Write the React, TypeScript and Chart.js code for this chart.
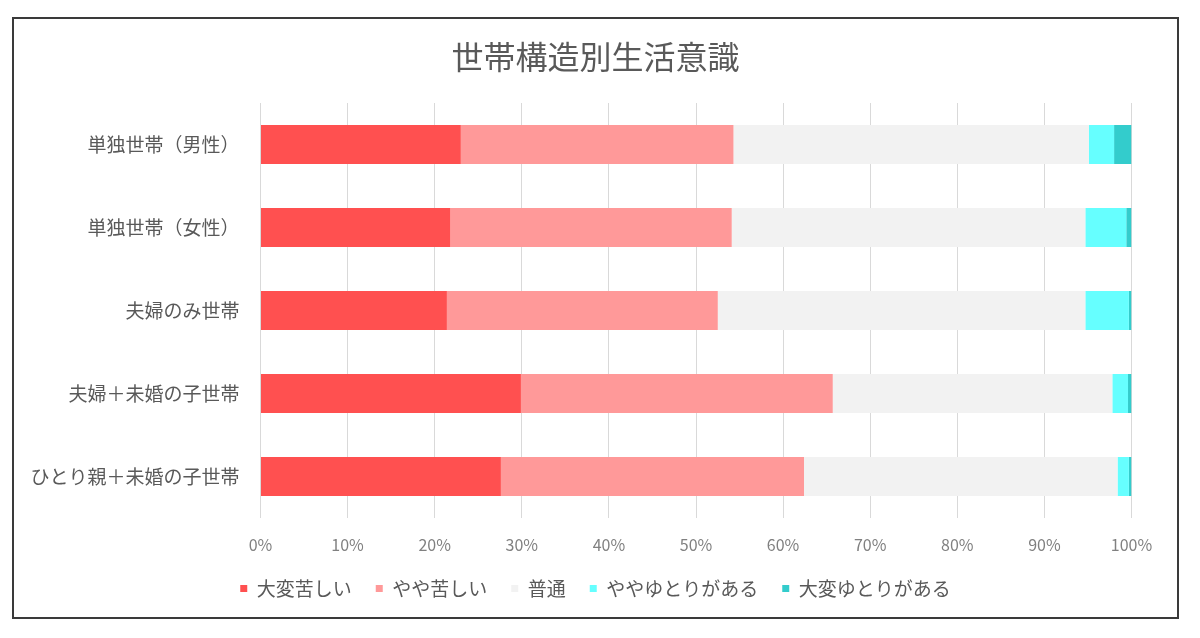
import { useEffect, useRef } from "react"
import { Chart, registerables } from "chart.js"

Chart.register(...registerables)

const categories = [
  "単独世帯（男性）",
  "単独世帯（女性）",
  "夫婦のみ世帯",
  "夫婦＋未婚の子世帯",
  "ひとり親＋未婚の子世帯",
]

const seriesNames = ["大変苦しい", "やや苦しい", "普通", "ややゆとりがある", "大変ゆとりがある"]

// percentages per category
const veryHard = [23.0, 21.8, 21.4, 29.9, 27.6]
const somewhatHard = [31.3, 32.3, 31.1, 35.8, 34.8]
const normal = [40.8, 40.6, 42.2, 32.1, 36.0]
const somewhatComfortable = [2.9, 4.7, 5.0, 1.8, 1.3]
const veryComfortable = [2.0, 0.6, 0.3, 0.4, 0.3]

const xTicks = [0, 10, 20, 30, 40, 50, 60, 70, 80, 90, 100]

const colors = ["#FF5050", "#FF9999", "#F2F2F2", "#66FFFF", "#33CCCC"]

const FONT = "'Noto Sans CJK JP', 'Noto Sans', sans-serif"

export default function App() {
  const chartRef = useRef<HTMLCanvasElement>(null)
  const chartInstance = useRef<Chart | null>(null)

  useEffect(() => {
    if (!chartRef.current) return
    if (chartInstance.current) chartInstance.current.destroy()
    const ctx = chartRef.current.getContext("2d")
    if (!ctx) return

    const values = [veryHard, somewhatHard, normal, somewhatComfortable, veryComfortable]

    chartInstance.current = new Chart(ctx, {
      type: "bar",
      data: {
        labels: categories,
        datasets: values.map((v, i) => ({
          label: seriesNames[i],
          data: v,
          backgroundColor: colors[i],
          borderWidth: 0,
          barPercentage: 0.47,
          categoryPercentage: 1,
        })),
      },
      options: {
        indexAxis: "y",
        responsive: true,
        maintainAspectRatio: false,
        animation: false,
        layout: { padding: { left: 0, right: 0, top: 0, bottom: 12 } },
        scales: {
          x: {
            stacked: true,
            min: 0,
            max: 100,
            afterBuildTicks: (scale) => {
              scale.ticks = xTicks.map((value) => ({ value }))
            },
            afterFit: (scale) => {
              scale.height = 37
            },
            grid: { color: "#D9D9D9", drawTicks: false },
            border: { display: false },
            ticks: {
              padding: 17,
              maxRotation: 0,
              color: "#808080",
              font: { family: FONT, size: 16 },
              callback: (v) => v + "%",
            },
          },
          y: {
            stacked: true,
            afterFit: (scale) => {
              scale.width = 246.5
            },
            grid: { display: false, drawTicks: false },
            border: { display: false },
            ticks: {
              padding: 21,
              color: "#595959",
              font: { family: FONT, size: 19 },
            },
          },
          // empty right-hand axis, only keeps room on the right like the original
          yRight: {
            type: "category",
            axis: "y",
            position: "right",
            afterFit: (scale) => {
              scale.width = 45.5
            },
            grid: { display: false, drawTicks: false },
            border: { display: false },
            ticks: { display: false },
          },
        },
        plugins: {
          title: {
            display: true,
            text: "世帯構造別生活意識",
            color: "#595959",
            font: { family: FONT, size: 32, weight: "normal" },
            padding: { top: 18.8, bottom: 26.8 },
          },
          legend: {
            position: "bottom",
            maxHeight: 50,
            labels: {
              boxWidth: 7,
              boxHeight: 7,
              padding: 24,
              color: "#595959",
              font: { family: FONT, size: 19 },
            },
          },
          tooltip: { enabled: false },
        },
      },
    })

    return () => {
      if (chartInstance.current) {
        chartInstance.current.destroy()
        chartInstance.current = null
      }
    }
  }, [])

  return (
    <div style={{ paddingTop: 9, paddingLeft: 4 }}>
      <div
        style={{
          width: 1167,
          height: 602,
          boxSizing: "border-box",
          border: "2px solid #3a3a3a",
          background: "#fff",
        }}
      >
        <div style={{ position: "relative", width: 1163, height: 598 }}>
          <canvas ref={chartRef} />
        </div>
      </div>
    </div>
  )
}
